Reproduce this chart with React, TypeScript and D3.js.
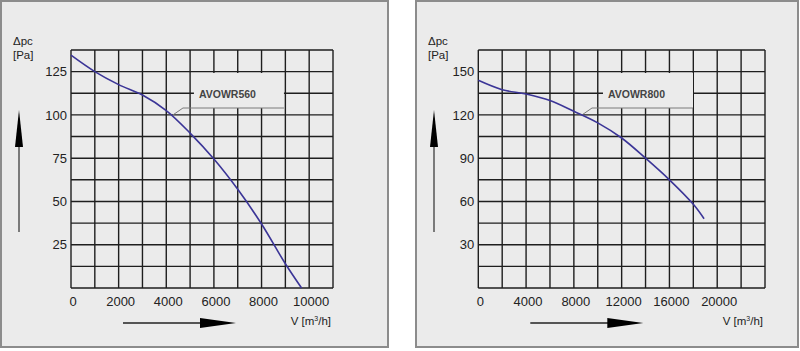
import React, { useEffect, useRef } from 'react';
import * as d3 from 'd3';

// AVOWR560 curve (V in m3/h, dp in Pa)
const LEFT_FLOW = [0, 1000, 2000, 3000, 4000, 5000, 6000, 7000, 8000, 9000, 9680];
const LEFT_PRESSURE = [134.5, 125, 117.5, 111.5, 102.5, 89.5, 74.5, 57, 37, 14, 0];
const LEFT_X_TICKS = [0, 2000, 4000, 6000, 8000, 10000];
const LEFT_Y_TICKS = [25, 50, 75, 100, 125];

// AVOWR800 curve
const RIGHT_FLOW = [0, 2000, 4000, 6000, 8000, 10000, 12000, 14000, 16000, 18000, 18900];
const RIGHT_PRESSURE = [144, 137.5, 134.5, 130, 122.5, 114.5, 104, 90, 75, 58, 48];
const RIGHT_X_TICKS = [0, 4000, 8000, 12000, 16000, 20000];
const RIGHT_Y_TICKS = [30, 60, 90, 120, 150];

const MODEL_NAMES = ['AVOWR560', 'AVOWR800'];
const LABEL_ANCHORS = [[4280, 100], [8680, 120]];

const WIDTH = 800;
const HEIGHT = 351;
const FONT = '"Liberation Sans", Arial, Helvetica, sans-serif';
const CURVE_COLOR = '#3b3597';

interface PanelSpec {
  frame: { x: number; y: number; w: number; h: number };
  grid: { left: number; right: number; top: number; bottom: number };
  xMax: number;
  xStep: number;
  yMax: number;
  yStep: number;
  flow: number[];
  pressure: number[];
  xTicks: number[];
  yTicks: number[];
  name: string;
  anchor: number[];
}

const PANELS: PanelSpec[] = [
  {
    frame: { x: 1, y: 1, w: 387, h: 346 },
    grid: { left: 71, right: 333, top: 50, bottom: 288 },
    xMax: 11000, xStep: 1000, yMax: 137.5, yStep: 12.5,
    flow: LEFT_FLOW, pressure: LEFT_PRESSURE,
    xTicks: LEFT_X_TICKS, yTicks: LEFT_Y_TICKS,
    name: MODEL_NAMES[0], anchor: LABEL_ANCHORS[0]
  },
  {
    frame: { x: 416, y: 1, w: 382, h: 346 },
    grid: { left: 478.3, right: 765, top: 50, bottom: 288 },
    xMax: 24000, xStep: 2000, yMax: 165, yStep: 15,
    flow: RIGHT_FLOW, pressure: RIGHT_PRESSURE,
    xTicks: RIGHT_X_TICKS, yTicks: RIGHT_Y_TICKS,
    name: MODEL_NAMES[1], anchor: LABEL_ANCHORS[1]
  }
];

export default function App() {
  const svgRef = useRef<SVGSVGElement>(null);

  useEffect(() => {
    if (!svgRef.current) return;
    const svg = d3.select(svgRef.current);
    svg.selectAll('*').remove();

    svg.append('rect')
      .attr('width', WIDTH)
      .attr('height', HEIGHT)
      .attr('fill', '#ffffff');

    PANELS.forEach(p => {
      const g = svg.append('g');
      const { frame, grid } = p;

      // Frame
      g.append('rect')
        .attr('x', frame.x)
        .attr('y', frame.y)
        .attr('width', frame.w)
        .attr('height', frame.h)
        .attr('fill', '#ebebeb')
        .attr('stroke', '#8c8c8c')
        .attr('stroke-width', 2);

      const x = d3.scaleLinear().domain([0, p.xMax]).range([grid.left, grid.right]);
      const y = d3.scaleLinear().domain([0, p.yMax]).range([grid.bottom, grid.top]);

      // Grid
      const xLines = d3.range(0, p.xMax + p.xStep / 2, p.xStep);
      const yLines = d3.range(0, p.yMax + p.yStep / 2, p.yStep);

      g.selectAll('.vline')
        .data(xLines)
        .enter()
        .append('line')
        .attr('x1', d => x(d))
        .attr('x2', d => x(d))
        .attr('y1', grid.top)
        .attr('y2', grid.bottom)
        .attr('stroke', '#1e1e1e')
        .attr('stroke-width', 1.4);

      g.selectAll('.hline')
        .data(yLines)
        .enter()
        .append('line')
        .attr('x1', grid.left)
        .attr('x2', grid.right)
        .attr('y1', d => y(d))
        .attr('y2', d => y(d))
        .attr('stroke', '#1e1e1e')
        .attr('stroke-width', 1.4);

      // Tick labels
      g.selectAll('.xlabel')
        .data(p.xTicks)
        .enter()
        .append('text')
        .attr('x', d => x(d) + 2)
        .attr('y', grid.bottom + 18)
        .attr('text-anchor', 'middle')
        .attr('font-family', FONT)
        .attr('font-size', 13)
        .attr('fill', '#222')
        .text(d => String(d));

      g.selectAll('.ylabel')
        .data(p.yTicks)
        .enter()
        .append('text')
        .attr('x', grid.left - 4)
        .attr('y', d => y(d))
        .attr('dy', '0.36em')
        .attr('text-anchor', 'end')
        .attr('font-family', FONT)
        .attr('font-size', 13)
        .attr('fill', '#222')
        .text(d => String(d));

      // Annotation box (covers the grid)
      const ax = x(p.anchor[0]);
      const ay = y(p.anchor[1]);
      const boxX = ax + 21;
      const boxY = 73;
      const boxW = 90;
      const boxH = 35;
      g.append('rect')
        .attr('x', boxX)
        .attr('y', boxY)
        .attr('width', boxW)
        .attr('height', boxH)
        .attr('fill', '#ebebeb');

      g.append('path')
        .attr('d', `M${ax},${ay}L${ax + 10},${boxY + boxH}L${boxX + boxW},${boxY + boxH}`)
        .attr('fill', 'none')
        .attr('stroke', '#7a7a7a')
        .attr('stroke-width', 1);

      g.append('text')
        .attr('x', boxX + 5)
        .attr('y', boxY + 25)
        .attr('font-family', FONT)
        .attr('font-size', 10.5)
        .attr('font-weight', 'bold')
        .attr('fill', '#444')
        .text(p.name);

      // Curve
      const line = d3.line<number>()
        .x((d, i) => x(p.flow[i]))
        .y(d => y(d))
        .curve(d3.curveCatmullRom.alpha(0.5));

      g.append('path')
        .datum(p.pressure)
        .attr('d', line)
        .attr('fill', 'none')
        .attr('stroke', CURVE_COLOR)
        .attr('stroke-width', 1.6);

      // Axis titles
      const tx = frame.x + 12;
      g.append('text')
        .attr('x', tx)
        .attr('y', 45)
        .attr('font-family', FONT)
        .attr('font-size', 11.5)
        .attr('fill', '#222')
        .text('\u0394pc');
      g.append('text')
        .attr('x', tx)
        .attr('y', 59)
        .attr('font-family', FONT)
        .attr('font-size', 11.5)
        .attr('fill', '#222')
        .text('[Pa]');

      const vt = g.append('text')
        .attr('x', grid.right - 2)
        .attr('y', 325)
        .attr('text-anchor', 'end')
        .attr('font-family', FONT)
        .attr('font-size', 11.5)
        .attr('fill', '#222');
      vt.append('tspan').text('V [m');
      vt.append('tspan').attr('font-size', 7).attr('dy', -4).text('3');
      vt.append('tspan').attr('dy', 4).text('/h]');

      // Arrows
      const vx = frame.x + 18;
      g.append('line')
        .attr('x1', vx).attr('x2', vx)
        .attr('y1', 232).attr('y2', 140)
        .attr('stroke', '#555')
        .attr('stroke-width', 1.5);
      g.append('path')
        .attr('d', `M${vx},110L${vx + 4},147L${vx - 4},147Z`)
        .attr('fill', '#000');

      const hx = grid.left + 52;
      g.append('line')
        .attr('x1', hx).attr('x2', hx + 82)
        .attr('y1', 323).attr('y2', 323)
        .attr('stroke', '#222')
        .attr('stroke-width', 1.4);
      g.append('path')
        .attr('d', `M${hx + 77},318L${hx + 113},323L${hx + 77},328Z`)
        .attr('fill', '#000');
    });
  }, []);

  return (
    <svg
      ref={svgRef}
      width={WIDTH}
      height={HEIGHT}
      style={{ position: 'absolute', left: 0, top: 0, display: 'block' }}
    />
  );
}
